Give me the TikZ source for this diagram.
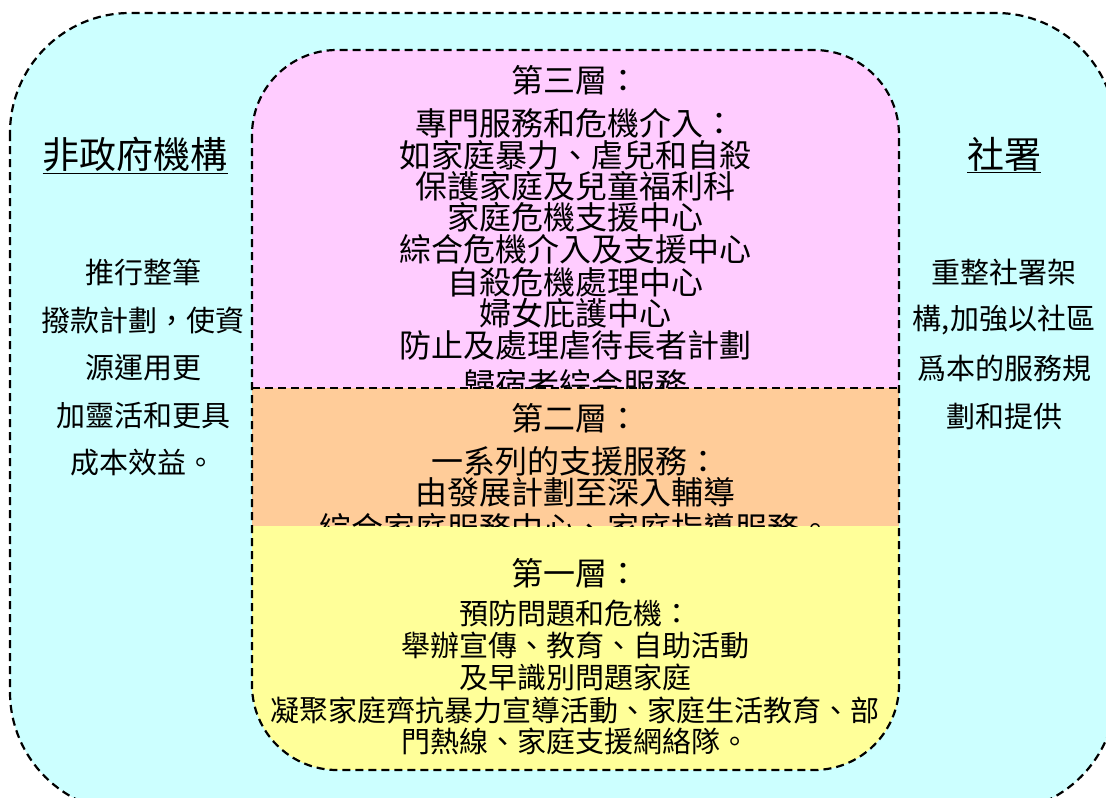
\documentclass[tikz,border=0pt]{standalone}
\usepackage{fontspec}
\newfontfamily\cjk{Noto Sans CJK TC}

\definecolor{sidecyan}{HTML}{CCFFFF}
\definecolor{tierpink}{HTML}{FFCCFF}
\definecolor{tierorange}{HTML}{FFCC99}
\definecolor{tieryellow}{HTML}{FFFF99}

\tikzset{
  boundary/.style={draw=black, line width=2.2pt, dash pattern=on 8pt off 5pt},
  bigline/.style={inner sep=0pt, font=\cjk\fontsize{32}{32}\selectfont},
  smallline/.style={inner sep=0pt, font=\cjk\fontsize{29}{29}\selectfont},
  sideline/.style={inner sep=0pt, font=\cjk\fontsize{29}{29}\selectfont},
  sidehead/.style={inner sep=0pt, font=\cjk\fontsize{37}{37}\selectfont}
}

\begin{document}
\begin{tikzpicture}[x=1pt, y=-1pt]
  \useasboundingbox (0,0) rectangle (1106,798);
  \clip (0,0) rectangle (1106,798);

  % Fundo
  \draw[boundary, fill=sidecyan, rounded corners=120pt] (10,13) rectangle (1116,812);

  % Camadas
  \begin{scope}
    \clip[rounded corners=85pt] (252,50) rectangle (899,770);
    \fill[tierpink] (252,50) rectangle (899,388);
    \fill[tierorange] (252,388) rectangle (899,526);
    \fill[tieryellow] (252,526) rectangle (899,770);
  \end{scope}
  \draw[boundary, rounded corners=85pt] (252,50) rectangle (899,770);
  \draw[boundary] (252,388) -- (899,388);

  % Terceira camada
  \begin{scope}
    \clip (252,50) rectangle (899,388);
    \foreach \ty/\txt [count=\i] in {80/第三層：, 123/專門服務和危機介入：,
        155/如家庭暴力、虐兒和自殺, 186/保護家庭及兒童福利科,
        217/家庭危機支援中心, 249/綜合危機介入及支援中心,
        282/自殺危機處理中心, 313/婦女庇護中心,
        345/防止及處理虐待長者計劃, 384/歸宿者綜合服務}
      \node[bigline] (tierC-\i) at (575,\ty) {\txt};
  \end{scope}

  % Segunda camada
  \begin{scope}
    \clip (252,388) rectangle (899,526);
    \foreach \ty/\txt [count=\i] in {418/第二層：, 461/一系列的支援服務：,
        492/由發展計劃至深入輔導, 528/綜合家庭服務中心、家庭指導服務。}
      \node[bigline] (tierB-\i) at (575,\ty) {\txt};
  \end{scope}

  % Primeira camada
  \node[bigline] (tierA-0) at (575,573) {第一層：};
  \foreach \ty/\txt [count=\i] in {614/預防問題和危機：,
      645/舉辦宣傳、教育、自助活動, 677/及早識別問題家庭,
      710/凝聚家庭齊抗暴力宣導活動、家庭生活教育、部,
      741/門熱線、家庭支援網絡隊。}
    \node[smallline] (tierA-\i) at (575,\ty) {\txt};

  % Lados
  \node[sidehead] (ngo) at (135,155) {\underline{非政府機構}};
  \node[sidehead] (swd) at (1004,155) {\underline{社署}};
  \foreach \ty/\txt [count=\i] in {272/推行整筆, 320/撥款計劃，使資,
      368/源運用更, 416/加靈活和更具, 463/成本效益。}
    \node[sideline] (ngo-\i) at (143,\ty) {\txt};
  \foreach \ty/\txt [count=\i] in {272/重整社署架, 320/{構,加強以社區},
      368/爲本的服務規, 416/劃和提供}
    \node[sideline] (swd-\i) at (1004,\ty) {\txt};
\end{tikzpicture}
\end{document}
